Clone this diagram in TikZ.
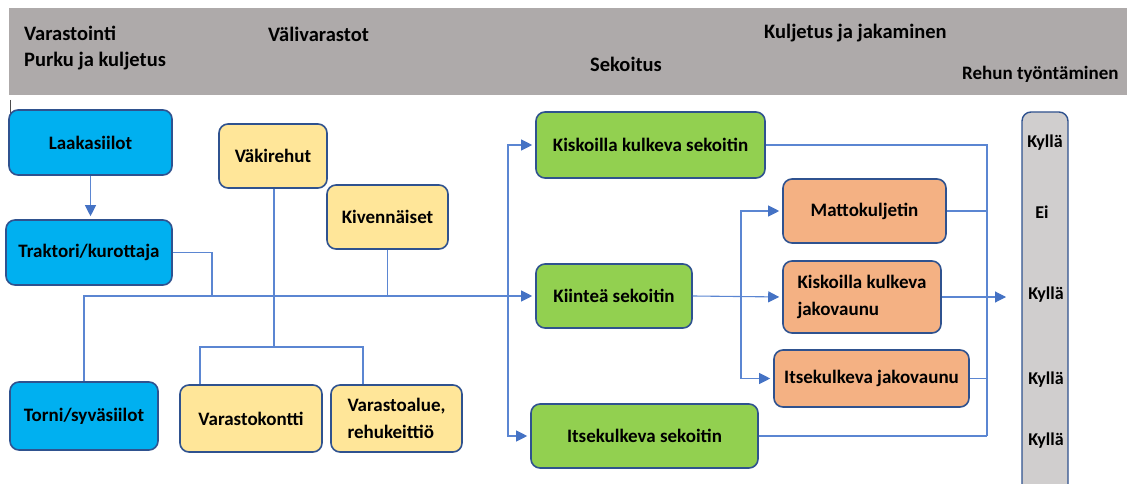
\documentclass[tikz,border=0pt]{standalone}
\usepackage{fontspec}
\setmainfont{Carlito}
\usetikzlibrary{arrows.meta,calc}
\definecolor{hdr}{HTML}{AEAAAA}
\definecolor{bord}{HTML}{2F528F}
\definecolor{cblue}{HTML}{00B0F0}
\definecolor{cyel}{HTML}{FFE699}
\definecolor{cgreen}{HTML}{92D050}
\definecolor{corange}{HTML}{F4B183}
\definecolor{cgray}{HTML}{D0CECE}
\definecolor{cline}{HTML}{5B86D2}
\definecolor{ctip}{HTML}{4472C4}
\begin{document}
\begin{tikzpicture}[x=1pt,y=-1pt,
  box/.style={draw=bord, line width=1.6pt, rounded corners=9pt, inner sep=2pt, font=\fontsize{19}{27}\selectfont\bfseries},
  conn/.style={draw=cline, line width=1.1pt},
  arr/.style={conn, shorten >=3pt, -{Triangle[length=11pt,width=11pt,color=ctip]}},
  hdrtxt/.style={font=\fontsize{20.5}{24}\selectfont\bfseries, anchor=west, inner sep=0pt},
  ans/.style={font=\fontsize{18}{21}\selectfont\bfseries, inner sep=0pt}]
\useasboundingbox (0,0) rectangle (1127,484);
\fill[white] (0,0) rectangle (1127,484);
\fill[hdr] (9,8) rectangle (1127,95);
\node[hdrtxt] (h1) at (24,33) {Varastointi};
\node[hdrtxt] (h2) at (24,61) {Purku ja kuljetus};
\node[hdrtxt] (h3) at (268,34) {Välivarastot};
\node[hdrtxt] (h4) at (764,33) {Kuljetus ja jakaminen};
\node[hdrtxt] (h5) at (590,64) {Sekoitus};
\node[hdrtxt, font=\fontsize{19}{22}\selectfont\bfseries] (h6) at (962,74) {Rehun työntäminen};
\draw[black!70, line width=0.8pt] (10,100) -- (10,116);
% gray bar
\begin{scope}
\clip (0,0) rectangle (1127,484);
\draw[fill=cgray, draw=bord, line width=1.4pt, rounded corners=9pt] (1022,112) rectangle (1068,500);
\end{scope}
\node[ans] (a1) at (1045,143) {Kyllä};
\node[ans] (a2) at (1042,212) {Ei};
\node[ans] (a3) at (1046,295) {Kyllä};
\node[ans] (a4) at (1046,380) {Kyllä};
\node[ans] (a5) at (1046,441) {Kyllä};
% boxes
\node[box, fill=cblue, minimum width=163pt, minimum height=65pt] (laak) at (90.5,142.5) {Laakasiilot};
\node[box, fill=cblue, minimum width=166pt, minimum height=65pt] (trak) at (89,252.5) {Traktori/kurottaja};
\node[box, fill=cblue, minimum width=148pt, minimum height=68pt] (torni) at (84,416) {Torni/syväsiilot};
\node[box, fill=cyel, minimum width=108pt, minimum height=64pt] (vaki) at (273,156) {Väkirehut};
\node[box, fill=cyel, minimum width=121pt, minimum height=64pt] (kiv) at (387.5,217) {Kivennäiset};
\node[box, fill=cyel, minimum width=142pt, minimum height=67pt] (vkon) at (251,418.5) {Varastokontti};
\node[box, fill=cyel, minimum width=131pt, minimum height=67pt, align=left] (valu) at (396.5,418.5) {Varastoalue,\\rehukeittiö};
\node[box, fill=cgreen, minimum width=229pt, minimum height=66pt] (kisk) at (650.5,145) {Kiskoilla kulkeva sekoitin};
\node[box, fill=cgreen, minimum width=156pt, minimum height=64pt] (kiin) at (614,296) {Kiinteä sekoitin};
\node[box, fill=cgreen, minimum width=227pt, minimum height=64pt] (itss) at (644.5,436) {Itsekulkeva sekoitin};
\node[box, fill=corange, minimum width=163pt, minimum height=64pt] (matto) at (864.5,211) {Mattokuljetin};
\node[box, fill=corange, minimum width=158pt, minimum height=72pt, align=left] (kjv) at (862,297) {Kiskoilla kulkeva\\jakovaunu};
\node[box, fill=corange, minimum width=195pt, minimum height=57pt] (ijv) at (871.5,378.5) {Itsekulkeva jakovaunu};
% connectors
\draw[arr] (laak.south) -- (laak.south |- trak.north);
\coordinate (tj) at (212,296);
\draw[conn] (trak.east) -| (tj);
\draw[arr] (torni.north) |- (kiin.west);
\coordinate (vb) at (274,347);
\draw[conn] (vaki.south -| vb) -- (vb);
\draw[conn] ($(vkon.north)+(-51,0)$) |- (vb) -| ($(valu.north)+(-33.5,0)$);
\draw[conn] (kiv.south) -- (kiv.south |- kiin.west);
\coordinate (dv) at (508,296);
\draw[arr] (dv) |- (kisk.west);
\draw[arr] (dv) |- (itss.west);
\draw[arr] (kiin.east) -- (kjv.west);
\coordinate (ev) at (741,296);
\draw[arr] (ev) |- (matto.west);
\draw[arr] (ev) |- (ijv.west);
\coordinate (rc) at (987,436);
\draw[conn] (kisk.east) -| (rc);
\draw[conn] (itss.east) -- (rc);
\draw[conn] (matto.east) -- (matto.east -| rc);
\draw[conn] (ijv.east) -- (ijv.east -| rc);
\coordinate (kt) at (1009,297);
\draw[arr] (kjv.east) -- (kt);
\end{tikzpicture}
\end{document}
